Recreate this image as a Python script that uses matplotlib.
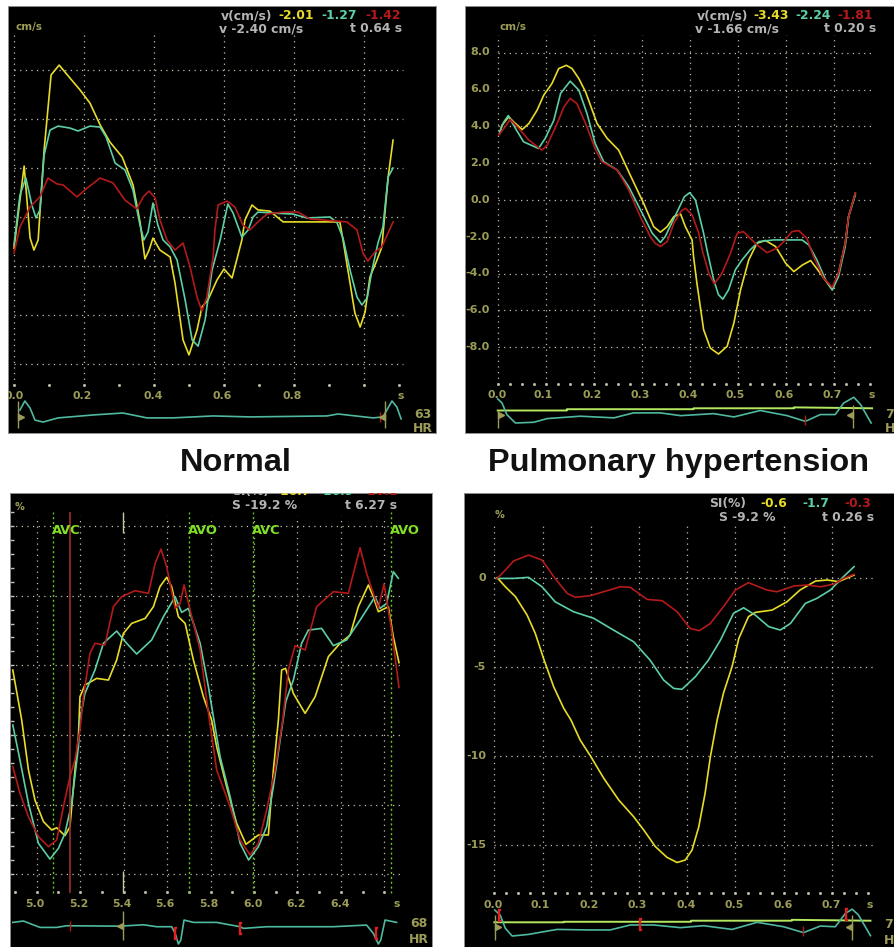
import matplotlib
matplotlib.use("Agg")
import matplotlib.pyplot as plt
from matplotlib.transforms import Affine2D

W, H = 894, 947
YEL, TEA, RED = "#e8dc28", "#5ccfa6", "#b41a1a"
OLV, GRY, GRN = "#9c9c58", "#b4b4b4", "#7fe026"
GRIDC = "#c0c0ac"
ECGC = "#4fb8a0"

# ---------- Normal, tissue velocity ----------
a_y_t = [0,.029,.046,.057,.069,.086,.106,.129,.16,.189,.217,.246,.274,.309,.34,.36,.374,.386,.397,.417,.446,.46,.483,.5,.523,.537,.554,.58,.6,.623,.651,.66,.68,.697,.731,.769,.88,.931,.94,.96,.974,.989,1.003,1.017,1.037,1.051,1.069,1.083]
a_y_v = [-1.27,2.08,-.86,-1.35,-.94,2.73,5.8,6.2,5.67,5.18,4.65,3.76,3.06,2.45,1.31,-.2,-1.71,-1.35,-.86,-1.35,-1.63,-2.69,-5.02,-5.63,-4.61,-3.67,-3.39,-2.57,-2.12,-2.49,-.94,-.12,.49,.29,.24,-.2,-.2,-.2,-.94,-2.69,-3.92,-4.49,-3.88,-2.45,-1.76,-1.22,1.63,3.14]
a_g_t = [0,.017,.034,.051,.063,.074,.086,.103,.126,.16,.183,.217,.246,.263,.289,.317,.34,.36,.371,.383,.397,.411,.426,.446,.466,.489,.509,.526,.546,.566,.589,.611,.626,.651,.669,.683,.697,.74,.797,.837,.903,.923,.94,.96,.98,.994,1.009,1.023,1.04,1.054,1.069,1.083]
a_g_v = [-1.14,.9,1.59,.49,-.04,.29,2.53,3.55,3.71,3.63,3.51,3.71,3.67,3.27,2.2,1.92,1.1,-.33,-.94,-.61,.57,-.33,-.94,-1.22,-1.76,-3.39,-5.02,-5.27,-4.2,-2.16,-.94,.53,.16,-.82,-.53,0,.2,.16,.12,-.04,0,-.24,-.86,-2.16,-3.27,-3.59,-3.31,-2.16,-1.06,-.41,1.63,2.0]
a_r_t = [0,.017,.046,.074,.097,.123,.14,.18,.209,.246,.283,.317,.351,.369,.386,.403,.417,.437,.46,.483,.503,.523,.537,.551,.569,.574,.583,.609,.631,.654,.674,.697,.723,.769,.811,.846,.951,.98,.997,1.011,1.031,1.051,1.083]
a_r_v = [-1.47,-.41,.41,.82,1.59,1.35,1.31,.82,1.18,1.59,1.39,.69,.33,.82,1.06,.78,-.12,-.94,-1.35,-1.06,-2.04,-3.27,-3.84,-3.27,-1.63,-.53,.49,.65,.41,-.33,-.53,-.2,.12,.2,.2,-.08,-.2,-.53,-1.47,-1.8,-1.43,-1.22,-.2]
a_e_t = [.017,.031,.046,.06,.083,.126,.226,.311,.38,.454,.569,.674,.894,.926,1.026,1.054,1.08,1.094,1.106]
a_e_v = [-7.88,-7.51,-7.8,-8.29,-8.37,-8.2,-8.08,-8.0,-8.2,-8.2,-8.12,-8.16,-8.12,-8.04,-8.2,-8.16,-7.51,-7.76,-8.24]

# ---------- Pulmonary hypertension, tissue velocity ----------
b_y_t = [.004,.009,.023,.033,.051,.065,.082,.096,.113,.127,.143,.155,.169,.183,.207,.228,.252,.276,.304,.325,.339,.353,.367,.381,.391,.405,.408,.415,.429,.443,.46,.478,.492,.506,.523,.54,.558,.579,.6,.617,.635,.652,.672,.697,.71,.724,.731,.745]
b_y_v = [3.62,4.07,4.52,4.25,3.83,4.16,4.88,5.7,6.33,7.14,7.32,7.14,6.6,5.88,4.16,3.35,2.71,1.36,-.18,-1.45,-1.75,-1.45,-.9,-.76,-1.45,-2.17,-3.07,-4.52,-7.05,-8.05,-8.37,-7.95,-6.69,-4.88,-3.26,-2.35,-2.2,-2.53,-3.44,-3.89,-3.53,-3.29,-3.98,-4.88,-3.98,-2.35,-.9,.36]
b_g_t = [.004,.013,.022,.037,.054,.085,.099,.117,.131,.151,.169,.186,.203,.221,.249,.273,.301,.322,.339,.349,.374,.389,.4,.412,.429,.436,.45,.46,.469,.481,.495,.509,.526,.544,.575,.634,.648,.665,.683,.697,.71,.724,.731,.745]
b_g_v = [3.71,4.25,4.59,3.89,3.16,2.8,3.35,4.34,5.79,6.46,5.97,4.7,3.07,2.08,1.63,.72,-.72,-1.81,-2.31,-1.99,-.63,.18,.4,0,-1.81,-2.71,-4.34,-5.15,-5.39,-4.88,-3.8,-3.26,-2.71,-2.26,-2.17,-2.17,-2.44,-3.26,-4.34,-4.88,-4.16,-2.53,-.9,.27]
b_r_t = [.002,.013,.026,.044,.065,.092,.103,.124,.138,.151,.165,.183,.203,.217,.249,.273,.297,.318,.328,.339,.353,.367,.381,.391,.405,.419,.426,.44,.451,.467,.485,.499,.512,.526,.54,.561,.582,.599,.613,.627,.644,.658,.679,.697,.71,.724,.731,.745]
b_r_v = [3.53,3.89,4.38,3.89,3.25,2.71,2.98,4.16,5.06,5.52,5.24,4.16,2.8,2.08,1.63,.54,-.9,-1.99,-2.35,-2.53,-2.26,-1.27,-.63,-.45,-.81,-1.81,-2.71,-4.0,-4.56,-4.0,-2.89,-1.81,-1.72,-2.08,-2.44,-2.86,-2.62,-2.17,-1.72,-1.66,-2.08,-3.07,-4.25,-4.74,-3.98,-2.35,-.9,.36]
b_e_t = [0,.009,.019,.037,.075,.103,.172,.242,.283,.339,.381,.45,.492,.547,.603,.641,.672,.703,.721,.742,.756,.778]
b_e_v = [-10.81,-11.03,-11.66,-12.12,-12.08,-11.88,-11.75,-11.84,-11.57,-11.57,-11.72,-11.61,-11.79,-11.44,-11.72,-12.03,-11.66,-11.66,-11.03,-10.72,-11.12,-12.12]
b_l_t = [0,.144,.144,.408,.408,.617,.617,.78]
b_l_v = [-11.44,-11.44,-11.37,-11.37,-11.32,-11.32,-11.27,-11.32]

# ---------- Normal, strain ----------
c_y_t = [4.89,4.931,4.962,4.992,5.031,5.069,5.092,5.13,5.153,5.176,5.192,5.199,5.222,5.276,5.33,5.368,5.399,5.437,5.499,5.537,5.567,5.598,5.621,5.652,5.683,5.721,5.767,5.805,5.828,5.874,5.92,5.963,6.02,6.066,6.089,6.112,6.127,6.145,6.181,6.235,6.281,6.342,6.396,6.442,6.48,6.526,6.549,6.572,6.618,6.641,6.667]
c_y_v = [-5.34,-8.93,-12.52,-14.68,-16.23,-16.83,-16.67,-17.24,-16.6,-12.52,-10.13,-7.26,-6.42,-5.94,-6.06,-4.62,-2.71,-1.99,-1.63,-.79,.65,1.32,.65,-1.51,-1.99,-4.62,-7.26,-8.93,-10.85,-13.72,-16.35,-17.86,-17.19,-17.19,-12.52,-8.93,-5.34,-5.22,-7.02,-8.45,-7.26,-4.38,-3.42,-2.83,-.79,.77,-.07,-1.15,-.79,-2.95,-4.81]
c_g_t = [4.89,4.923,4.962,5.008,5.061,5.1,5.13,5.161,5.192,5.199,5.222,5.268,5.307,5.368,5.407,5.46,5.529,5.583,5.637,5.667,5.698,5.752,5.79,5.813,5.844,5.89,5.936,5.975,6.02,6.058,6.089,6.12,6.146,6.181,6.219,6.25,6.311,6.365,6.426,6.488,6.557,6.58,6.61,6.641,6.664]
c_g_v = [-9.29,-11.81,-14.92,-17.79,-18.92,-18.15,-17.07,-14.92,-10.85,-8.93,-7.02,-5.34,-3.42,-2.54,-3.3,-4.19,-3.18,-1.51,-.07,-1.2,-.91,-3.42,-6.54,-8.69,-11.57,-14.44,-17.79,-18.99,-18.03,-16.6,-13.72,-10.37,-7.61,-6.06,-3.42,-2.47,-2.35,-3.59,-3.18,-1.75,-.07,-.91,-.55,1.72,1.25]
c_r_t = [4.89,4.923,4.962,5.008,5.054,5.092,5.123,5.153,5.176,5.199,5.215,5.245,5.268,5.314,5.353,5.391,5.453,5.514,5.545,5.572,5.598,5.637,5.66,5.678,5.706,5.752,5.79,5.828,5.89,5.936,5.982,6.02,6.058,6.097,6.132,6.158,6.189,6.235,6.288,6.365,6.434,6.465,6.488,6.518,6.572,6.598,6.633,6.667]
c_r_v = [-12.28,-14.2,-15.88,-17.31,-18.03,-17.55,-15.16,-13.0,-11.81,-9.65,-7.26,-4.14,-3.42,-3.54,-.79,-.07,.36,.17,2.32,3.35,2.08,-.91,-.55,.77,-1.03,-3.9,-8.4,-12.52,-15.16,-17.55,-18.63,-17.79,-15.4,-12.52,-8.93,-5.34,-3.59,-3.9,-.79,.29,.17,2.08,3.45,1.6,-.91,.84,-2.47,-6.59]
c_e_t = [4.89,4.939,5.015,5.092,5.138,5.383,5.491,5.552,5.621,5.637,5.652,5.663,5.678,5.721,5.828,5.936,5.951,6.058,6.365,6.518,6.549,6.572,6.583,6.603,6.656]
c_e_v = [-23.47,-23.37,-23.83,-23.83,-23.71,-23.74,-23.64,-23.78,-23.78,-24.26,-25.02,-24.74,-23.3,-23.47,-23.47,-23.78,-23.9,-23.78,-23.78,-23.66,-24.26,-25.02,-24.74,-23.3,-23.47]
c_events = [("AVC", 5.074), ("AVO", 5.702), ("AVC", 5.994), ("AVO", 6.629)]

# ---------- Pulmonary hypertension, strain ----------
d_y_t = [.006,.023,.044,.068,.085,.102,.123,.144,.159,.178,.199,.227,.258,.289,.31,.334,.358,.379,.396,.41,.424,.437,.448,.462,.475,.493,.507,.527,.541,.576,.607,.634,.666,.69,.714,.746]
d_y_v = [0,-.51,-1.07,-2.1,-3.13,-4.53,-6.12,-7.34,-8.0,-9.12,-10.0,-11.27,-12.49,-13.43,-14.18,-15.11,-15.71,-16.0,-15.86,-15.3,-13.99,-12.12,-10.06,-8.0,-6.5,-5.0,-3.41,-2.19,-1.95,-1.82,-1.35,-.69,-.19,-.13,-.22,.15]
d_g_t = [.006,.04,.071,.099,.126,.164,.206,.247,.289,.323,.351,.372,.389,.417,.444,.469,.496,.517,.541,.569,.593,.614,.645,.669,.697,.724,.746]
d_g_v = [-.04,-.04,.02,-.51,-1.35,-1.91,-2.28,-2.94,-3.6,-4.63,-5.75,-6.22,-6.27,-5.56,-4.63,-3.5,-2.0,-1.69,-2.1,-2.75,-2.94,-2.57,-1.44,-1.16,-.69,.06,.62]
d_r_t = [.006,.023,.04,.071,.099,.126,.151,.168,.199,.234,.261,.282,.317,.348,.379,.406,.425,.448,.475,.5,.527,.565,.586,.621,.648,.676,.704,.724,.746]
d_r_v = [-.04,.43,.94,1.27,.99,-.04,-.88,-1.1,-1.01,-.73,-.51,-.54,-1.22,-1.29,-1.91,-2.85,-2.98,-2.57,-1.63,-.69,-.28,-.69,-.79,-.47,-.41,-.51,-.36,-.04,.19]
d_e_t = [.001,.012,.023,.037,.071,.102,.13,.199,.24,.282,.33,.386,.434,.493,.545,.6,.641,.676,.707,.728,.742,.755,.78]
d_e_v = [-18.67,-18.95,-19.7,-20.13,-20.04,-19.89,-19.76,-19.79,-19.79,-19.51,-19.51,-19.66,-19.55,-19.76,-19.36,-19.61,-19.94,-19.57,-19.61,-18.86,-18.62,-18.95,-20.11]
d_l_t = [0,.144,.144,.408,.408,.617,.617,.78]
d_l_v = [-19.36,-19.36,-19.33,-19.33,-19.27,-19.27,-19.22,-19.27]

plt.rcParams["font.family"] = ["DejaVu Sans"]
fig = plt.figure(figsize=(W / 100, H / 100), dpi=100, facecolor="white")
PX = Affine2D().scale(1, -1).translate(0, H)


def panel(box, x0_px, x_scale, x0_val, y0_px, y_scale):
    """box = (left, top, right, bottom) in pixels; scale = pixels per data unit."""
    l, t, r, b = box
    ax = fig.add_axes([l / W, 1 - b / H, (r - l) / W, (b - t) / H], facecolor="black")
    ax.set_xlim(x0_val + (l - x0_px) / x_scale, x0_val + (r - x0_px) / x_scale)
    ax.set_ylim((y0_px - b) / y_scale, (y0_px - t) / y_scale)
    ax.set_xticks([]); ax.set_yticks([])
    for s in ax.spines.values():
        s.set_color("#909090"); s.set_linewidth(0.7)
    fx = lambda p: x0_val + (p - x0_px) / x_scale
    fy = lambda p: (y0_px - p) / y_scale
    return ax, fx, fy


def grid(ax, fx, fy, xt, yt, x_span, y_span):
    ds = (0, (1, 3.5))
    ax.hlines(yt, fx(x_span[0]), fx(x_span[1]), colors=GRIDC, linewidth=0.9, linestyles=ds, zorder=1)
    ax.vlines(xt, fy(y_span[1]), fy(y_span[0]), colors=GRIDC, linewidth=0.9, linestyles=ds, zorder=1)


def txt(ax, x, y, s, color=OLV, size=8, ha="left", weight="bold"):
    ax.text(x, y, s, transform=PX, color=color, fontsize=size, ha=ha, va="center",
            fontweight=weight, clip_on=True, zorder=6)


def traces(ax, sets, ecg):
    for (t, v), c in zip(sets, (YEL, TEA, RED)):
        ax.plot(t, v, color=c, lw=1.2, solid_joinstyle="round", zorder=3)
    ax.plot(ecg[0], ecg[1], color=ECGC, lw=1.2, zorder=3)


def readout(ax, items, line2):
    for x, y, s, c in items + line2:
        txt(ax, x, y, s, color=c, size=8.9, weight="bold")


def labels(ax, xlabs, y, size=7.8):
    for x, s in xlabs:
        txt(ax, x, y, s, ha="center", size=size)


def cursor(ax, fx, fy, xp, y1, y2, direction, ymark):
    ax.vlines(fx(xp), fy(y2), fy(y1), colors=OLV, lw=1, zorder=4)
    ax.plot([fx(xp + (3 if direction == ">" else -3))], [fy(ymark)], marker=direction,
            color=OLV, ms=5, zorder=4)


# ---- A
axA, fx, fy = panel((8, 6, 436, 433), 14, 350, 0, 217, 24.5)
grid(axA, fx, fy, [0, .2, .4, .6, .8, 1.0], [6, 4, 2, 0, -2, -4, -6], (14, 403), (35, 385))
axA.plot([i / 10 for i in range(12)], [fy(385)] * 12, ls="", marker="s", ms=1.0, color=GRIDC)
traces(axA, [(a_y_t, a_y_v), (a_g_t, a_g_v), (a_r_t, a_r_v)], (a_e_t, a_e_v))
axA.plot([1.046], [fy(417)], marker="|", ms=7, color=RED, mew=1, zorder=4)
cursor(axA, fx, fy, 18, 401, 428, ">", 417)
cursor(axA, fx, fy, 385, 401, 428, "<", 417)
readout(axA, [(221, 15.5, "v(cm/s)", GRY), (278, 15.5, "-2.01", YEL), (321, 15.5, "-1.27", TEA), (365, 15.5, "-1.42", RED)],
        [(219, 28.5, "v -2.40 cm/s", GRY), (350, 28.5, "t 0.64 s", GRY)])
txt(axA, 15, 27, "cm/s", size=7.5)
labels(axA, [(14, "0.0"), (82, "0.2"), (153, "0.4"), (222, "0.6"), (292, "0.8"), (401, "s")], 396)
txt(axA, 423, 414, "63", ha="center", size=9)
txt(axA, 423, 428, "HR", ha="center", size=9)

# ---- B
axB, fx, fy = panel((465, 6, 894, 433), 497.7, 480, 0, 200, 18.4)
grid(axB, fx, fy, [i / 10 for i in range(8)], [8, 6, 4, 2, 0, -2, -4, -6, -8], (497.7, 874), (35, 384))
axB.plot([i / 40 for i in range(32)], [fy(384)] * 32, ls="", marker="s", ms=1.0, color=GRIDC)
traces(axB, [(b_y_t, b_y_v), (b_g_t, b_g_v), (b_r_t, b_r_v)], (b_e_t, b_e_v))
axB.plot(b_l_t, b_l_v, color="#b4e860", lw=1.4, zorder=2)
axB.plot([.641], [fy(420)], marker="|", ms=7, color=RED, mew=1, zorder=4)
cursor(axB, fx, fy, 498, 410, 428, ">", 415)
cursor(axB, fx, fy, 853, 405, 428, "<", 415)
readout(axB, [(697, 15.5, "v(cm/s)", GRY), (753, 15.5, "-3.43", YEL), (795, 15.5, "-2.24", TEA), (837, 15.5, "-1.81", RED)],
        [(695, 28.5, "v -1.66 cm/s", GRY), (824, 28.5, "t 0.20 s", GRY)])
txt(axB, 499, 27, "cm/s", size=7.5)
for v, y in zip(["8.0", "6.0", "4.0", "2.0", "0.0", "-2.0", "-4.0", "-6.0", "-8.0"],
                [52, 89.3, 126, 163.3, 200, 236.7, 273.3, 310.3, 346.7]):
    txt(axB, 490, y, v, ha="right")
labels(axB, [(497, "0.0"), (543, "0.1"), (592, "0.2"), (640, "0.3"), (688, "0.4"), (735, "0.5"), (784, "0.6"), (832, "0.7"), (872, "s")], 395)
txt(axB, 885, 414, "71", size=9)
txt(axB, 885, 428, "HR", size=9)

# ---- C
axC, fx, fy = panel((10, 493, 432, 947), 36.7, 217.33, 5.0, 595.7, 13.92)
grid(axC, fx, fy, [5.0, 5.2, 5.4, 5.6, 5.8, 6.0, 6.2, 6.4, 6.6], [5, 0, -5, -10, -15, -20], (10, 400), (516, 893))
axC.plot([4.9 + i / 10 for i in range(18)], [fy(892)] * 18, ls="", marker="s", ms=1.0, color=GRIDC)
axC.plot([fx(12)] * 27, [6 - i for i in range(27)], ls="", marker="_", ms=2.5, color=GRIDC)
for name, t in c_events:
    axC.vlines(t, fy(893), fy(512), colors="#63c81e", lw=1, linestyles=(0, (1.5, 2)), zorder=2)
    txt(axC, 36.7 + (t - 5) * 217.33 - 1, 530, name, color=GRN, size=9.4)
traces(axC, [(c_y_t, c_y_v), (c_g_t, c_g_v), (c_r_t, c_r_v)], (c_e_t, c_e_v))
axC.vlines(5.153, fy(893), fy(512), colors="#9c3030", lw=1.2, zorder=4)
axC.vlines(5.399, fy(533), fy(512), colors="#c8c8a0", lw=1, zorder=4)
axC.vlines(5.399, fy(893), fy(871), colors="#c8c8a0", lw=1, zorder=4)
cursor(axC, fx, fy, 122.5, 911, 940, "<", 926)
axC.plot([5.153], [fy(926)], marker="|", ms=7, color=RED, mew=1, zorder=4)
for t, yp in [(5.637, 933), (5.936, 928), (6.559, 933)]:
    axC.plot([t], [fy(yp)], marker="$[$", ms=9, color="#e02020", zorder=4)
readout(axC, [(232, 491, "SI(%)", GRY), (275, 491, "-16.7", YEL), (318, 491, "-16.9", TEA), (362, 491, "-16.1", RED)],
        [(232, 505, "S -19.2 %", GRY), (345, 505, "t 6.27 s", GRY)])
txt(axC, 15, 507, "%", size=7)
labels(axC, [(35, "5.0"), (79, "5.2"), (122, "5.4"), (165, "5.6"), (209, "5.8"), (253, "6.0"), (296, "6.2"), (340, "6.4"), (397, "s")], 904)
txt(axC, 419, 923, "68", ha="center", size=9)
txt(axC, 419, 939, "HR", ha="center", size=9)

# ---- D
axD, fx, fy = panel((464, 493, 894, 947), 494.3, 482.3, 0, 577.7, 17.8)
grid(axD, fx, fy, [i / 10 for i in range(8)], [0, -5, -10, -15], (494.3, 874), (523, 893))
axD.plot([i / 40 for i in range(32)], [fy(893)] * 32, ls="", marker="s", ms=1.0, color=GRIDC)
traces(axD, [(d_y_t, d_y_v), (d_g_t, d_g_v), (d_r_t, d_r_v)], (d_e_t, d_e_v))
axD.plot(d_l_t, d_l_v, color="#b4e860", lw=1.4, zorder=2)
axD.plot([.64], [fy(931)], marker="|", ms=7, color=RED, mew=1, zorder=4)
cursor(axD, fx, fy, 495, 915, 940, ">", 927)
cursor(axD, fx, fy, 852, 915, 940, "<", 927)
for t, yp in [(.009, 915), (.303, 924), (.73, 914)]:
    axD.plot([t], [fy(yp)], marker="$[$", ms=9, color="#e02020", zorder=4)
readout(axD, [(709, 503, "SI(%)", GRY), (760, 503, "-0.6", YEL), (802, 503, "-1.7", TEA), (844, 503, "-0.3", RED)],
        [(719, 517, "S -9.2 %", GRY), (822, 517, "t 0.26 s", GRY)])
txt(axD, 495, 515, "%", size=7)
for v, y in zip(["0", "-5", "-10", "-15"], [577.7, 667, 755.7, 844.7]):
    txt(axD, 486, y, v, ha="right")
labels(axD, [(493, "0.0"), (540, "0.1"), (589, "0.2"), (637, "0.3"), (686, "0.4"), (734, "0.5"), (783, "0.6"), (831, "0.7"), (870, "s")], 905)
txt(axD, 884, 924, "71", size=9)
txt(axD, 884, 940, "HR", size=9)

# ---- Titles
for x, s in [(236, "Normal"), (678, "Pulmonary hypertension")]:
    fig.text(x / W, 1 - 463 / H, s, ha="center", va="center", fontsize=23.4,
             fontweight="bold", family="Liberation Sans", color="#111111")

fig.savefig("out.png", dpi=100, facecolor="white")
